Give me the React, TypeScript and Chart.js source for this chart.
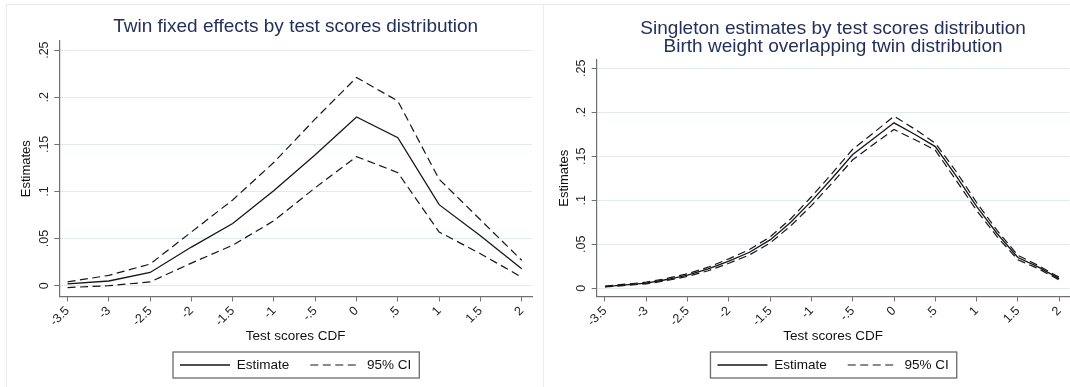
import React, { useEffect, useRef } from 'react';
import { Chart, registerables } from 'chart.js';

Chart.register(...registerables);

// ---------- data ----------
const xTickValues = [-3.5, -3, -2.5, -2, -1.5, -1, -0.5, 0, 0.5, 1, 1.5, 2];
const yTickValues = [0, 0.05, 0.1, 0.15, 0.2, 0.25];

const twinX = [-3.5, -3, -2.5, -2, -1.5, -1, -0.5, 0, 0.5, 1, 1.5, 2];
const twinEstimate = [0.002, 0.005, 0.014, 0.041, 0.066, 0.101, 0.139, 0.179, 0.157, 0.086, 0.053, 0.018];
const twinUpper = [0.004, 0.011, 0.023, 0.057, 0.091, 0.131, 0.177, 0.221, 0.196, 0.113, 0.070, 0.027];
const twinLower = [-0.002, 0.0, 0.004, 0.024, 0.043, 0.069, 0.104, 0.137, 0.120, 0.057, 0.034, 0.009];

const singX = [-3.5, -3.25, -3, -2.75, -2.5, -2.25, -2, -1.75, -1.5, -1.25, -1, -0.75, -0.5, -0.25, 0, 0.25, 0.5, 0.75, 1, 1.25, 1.5, 1.75, 2];
const singEstimate = [0.002, 0.004, 0.006, 0.010, 0.015, 0.022, 0.031, 0.041, 0.055, 0.075, 0.099, 0.125, 0.152, 0.170, 0.188, 0.175, 0.161, 0.128, 0.093, 0.062, 0.035, 0.024, 0.011];
const singUpper = [0.0025, 0.0047, 0.007, 0.0112, 0.0165, 0.024, 0.0335, 0.044, 0.0585, 0.079, 0.104, 0.1305, 0.158, 0.1765, 0.1955, 0.181, 0.165, 0.133, 0.0975, 0.0655, 0.0375, 0.0258, 0.0125];
const singLower = [0.0015, 0.0033, 0.005, 0.0088, 0.0135, 0.020, 0.0285, 0.038, 0.0515, 0.071, 0.094, 0.1195, 0.146, 0.1635, 0.1805, 0.169, 0.157, 0.123, 0.0885, 0.0585, 0.0325, 0.0222, 0.0095];

const leftTitle = 'Twin fixed effects by test scores distribution';
const rightTitle = ['Singleton estimates by test scores distribution', 'Birth weight overlapping twin distribution'];
const xAxisTitle = 'Test scores CDF';
const yAxisTitle = 'Estimates';
const legendLabels = ['Estimate', '95% CI', '95% CI lower'];

// ---------- styles ----------
const FONT = "'Liberation Sans', Arial, Helvetica, sans-serif";
const INK = '#161616';
const AXIS = '#707070';
const GRID = '#e2eaee';
const TITLE = '#24305a';
const DASH = [8, 4.5];

const pts = (xs: number[], ys: number[]) => xs.map((x, i) => ({ x, y: ys[i] }));

const fmt = (v: any) => {
  const n = Math.round(Number(v) * 100) / 100;
  if (n === 0) return '0';
  return String(n).replace(/^(-?)0\./, '$1.');
};

const legendBox = {
  id: 'legendBox',
  afterDraw(chart: any) {
    const lg = chart.legend;
    if (!lg || !lg.legendHitBoxes || !lg.legendHitBoxes.length) return;
    const hb = lg.legendHitBoxes;
    const l = hb[0].left - 7;
    const last = hb[hb.length - 1];
    const r = last.left + last.width + 8;
    const cy = hb[0].top + hb[0].height / 2;
    const ctx = chart.ctx;
    ctx.save();
    ctx.strokeStyle = '#6a6a6a';
    ctx.lineWidth = 1.3;
    ctx.setLineDash([]);
    ctx.strokeRect(l, cy - 13, r - l, 26);
    ctx.restore();
  },
};

type Spec = {
  title: string | string[];
  xs: number[];
  est: number[];
  up: number[];
  lo: number[];
  yMin: number;
  yMax: number;
  yWidth: number;
  padRight: number;
  titlePadTop: number;
  titlePadBottom: number;
  yTitlePad: number;
};

const W = 536;
const H = 382;

function Panel({ spec, left }: { spec: Spec; left: number }) {
  const ref = useRef<HTMLCanvasElement | null>(null);
  useEffect(() => {
    const canvas = ref.current;
    if (!canvas) return;
    const defaultLabels = (Chart as any).defaults.plugins.legend.labels.generateLabels;
    const chart = new Chart(canvas, {
      type: 'line',
      data: {
        datasets: [
          {
            label: legendLabels[0],
            data: pts(spec.xs, spec.est),
            borderColor: INK,
            backgroundColor: 'transparent',
            borderWidth: 1.3,
            pointRadius: 0,
            tension: 0,
            fill: false,
          },
          {
            label: legendLabels[1],
            data: pts(spec.xs, spec.up),
            borderColor: INK,
            backgroundColor: 'transparent',
            borderWidth: 1.2,
            borderDash: DASH,
            pointRadius: 0,
            tension: 0,
            fill: false,
          },
          {
            label: legendLabels[2],
            data: pts(spec.xs, spec.lo),
            borderColor: INK,
            backgroundColor: 'transparent',
            borderWidth: 1.2,
            borderDash: DASH,
            pointRadius: 0,
            tension: 0,
            fill: false,
          },
        ],
      },
      options: {
        animation: false,
        responsive: false,
        events: [],
        layout: { padding: { left: 0, right: spec.padRight, top: 0, bottom: 5.25 } },
        plugins: {
          tooltip: { enabled: false },
          title: {
            display: true,
            text: spec.title,
            fullSize: false,
            color: TITLE,
            font: { family: FONT, size: 19, weight: 'normal', lineHeight: '18.5px' },
            padding: { top: spec.titlePadTop, bottom: spec.titlePadBottom },
          },
          legend: {
            display: true,
            position: 'bottom',
            fullSize: false,
            labels: {
              usePointStyle: true,
              pointStyle: 'line',
              pointStyleWidth: 50,
              padding: 21,
              color: '#111',
              font: { family: FONT, size: 13.5 },
              filter: (item: any) => item.datasetIndex < 2,
              generateLabels: (ch: any) =>
                defaultLabels(ch).map((item: any) => {
                  const ds = ch.data.datasets[item.datasetIndex];
                  return {
                    ...item,
                    strokeStyle: ds.borderColor,
                    lineWidth: ds.borderWidth,
                    lineDash: ds.borderDash || [],
                    pointStyle: 'line',
                  };
                }),
            },
          },
        },
        scales: {
          x: {
            type: 'linear',
            min: -3.6,
            max: 2.125,
            afterBuildTicks: (s: any) => {
              s.ticks = xTickValues.map((v) => ({ value: v }));
            },
            afterFit: (s: any) => {
              s.height = 40.75;
              s.paddingLeft = 0;
              s.paddingRight = 0;
            },
            ticks: {
              autoSkip: false,
              minRotation: 45,
              maxRotation: 45,
              padding: 2,
              color: '#222',
              font: { family: FONT, size: 12.5 },
              callback: (v: any) => fmt(v),
            },
            grid: { drawOnChartArea: false, drawTicks: true, tickLength: 5, tickColor: AXIS, color: AXIS, lineWidth: 1 },
            border: { display: true, color: AXIS, width: 1.2 },
            title: {
              display: true,
              text: xAxisTitle,
              color: '#111',
              font: { family: FONT, size: 13.5 },
              padding: { top: 0, bottom: -7.35 },
            },
          },
          y: {
            type: 'linear',
            min: spec.yMin,
            max: spec.yMax,
            afterBuildTicks: (s: any) => {
              s.ticks = yTickValues.map((v) => ({ value: v }));
            },
            afterFit: (s: any) => {
              s.width = spec.yWidth;
              s.paddingTop = 0;
              s.paddingBottom = 0;
            },
            ticks: {
              minRotation: 90,
              maxRotation: 90,
              crossAlign: 'center',
              padding: 1,
              color: '#222',
              font: { family: FONT, size: 12.5 },
              callback: (v: any) => fmt(v),
            },
            grid: { drawOnChartArea: true, drawTicks: true, tickLength: 5, tickColor: AXIS, color: GRID, lineWidth: 1 },
            border: { display: true, color: AXIS, width: 1.2 },
            title: {
              display: true,
              text: yAxisTitle,
              color: '#111',
              font: { family: FONT, size: 13 },
              padding: { top: spec.yTitlePad, bottom: 0 },
            },
          },
        },
      },
      plugins: [legendBox],
    } as any);
    return () => chart.destroy();
  }, []);
  return (
    <canvas
      ref={ref}
      width={W}
      height={H}
      style={{ position: 'absolute', left, top: 5, width: W, height: H, display: 'block' }}
    />
  );
}

const leftSpec: Spec = {
  title: leftTitle,
  xs: twinX,
  est: twinEstimate,
  up: twinUpper,
  lo: twinLower,
  yMin: -0.01146,
  yMax: 0.2597,
  yWidth: 52.3,
  padRight: 11,
  titlePadTop: 12.75,
  titlePadBottom: 4.75,
  yTitlePad: 12,
};

const rightSpec: Spec = {
  title: rightTitle,
  xs: singX,
  est: singEstimate,
  up: singUpper,
  lo: singLower,
  yMin: -0.0093,
  yMax: 0.2594,
  yWidth: 53.7,
  padRight: 9.5,
  titlePadTop: 14.05,
  titlePadBottom: 3.95,
  yTitlePad: 13.4,
};

export default function App() {
  return (
    <div
      style={{
        position: 'fixed',
        left: 0,
        top: 0,
        width: 1070,
        height: 387,
        overflow: 'hidden',
        background: '#ffffff',
      }}
    >
      <div style={{ position: 'absolute', left: 6, top: 4, width: 1064, height: 1, background: '#e8e8e8' }} />
      <div style={{ position: 'absolute', left: 6, top: 4, width: 1, height: 383, background: '#ececec' }} />
      <div style={{ position: 'absolute', left: 543, top: 4, width: 1, height: 383, background: '#ececec' }} />
      <Panel spec={leftSpec} left={7} />
      <Panel spec={rightSpec} left={543} />
    </div>
  );
}
